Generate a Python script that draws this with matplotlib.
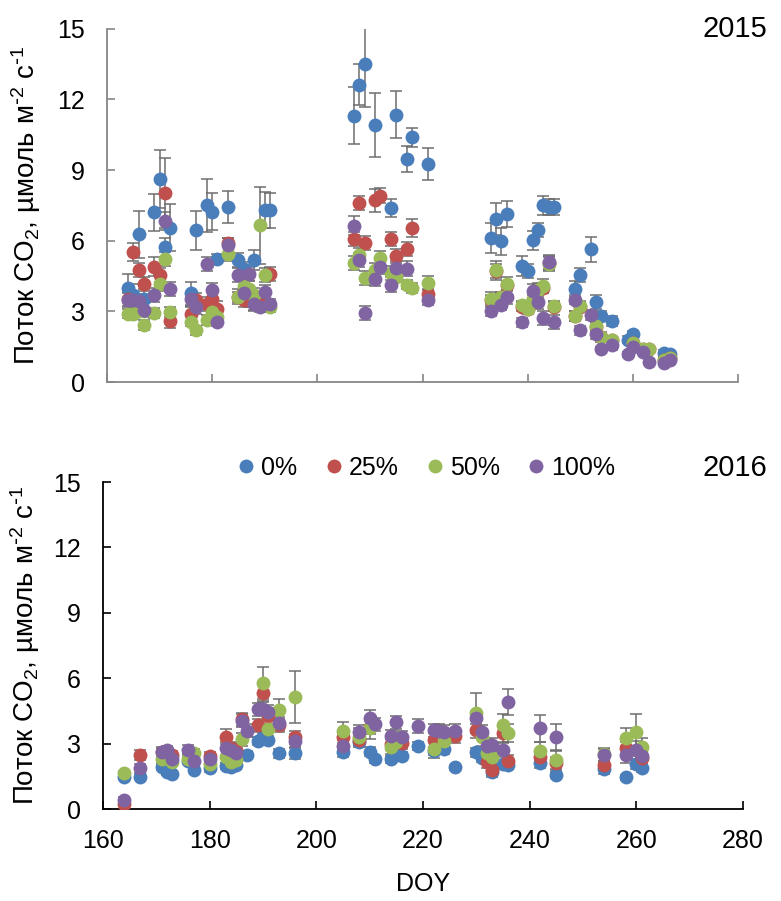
import numpy as np
import matplotlib.pyplot as plt

plt.rcParams['font.family'] = ['Liberation Sans', 'DejaVu Sans']
plt.rcParams['mathtext.default'] = 'regular'

nan = np.nan

# --- 2015 ---
days15 = [164, 165, 166, 167, 169, 170, 171, 172, 176, 177, 179, 180, 181, 183, 185, 186, 187, 188, 189, 190, 191,
          207, 208, 209, 211, 212, 214, 215, 217, 218, 221,
          233, 234, 235, 236, 239, 240, 241, 242, 243, 244, 245, 249, 250, 252, 253, 254, 256, 259, 260, 262, 263, 266, 267]

blue15 = [4.0, 3.7, 6.27, 3.54, 7.2, 8.63, 5.73, 6.55, 3.76, 6.44, 7.5, 7.23, 5.24, 7.44, 5.17, 4.81, nan, 5.19, nan, 7.31, 7.29,
          11.31, 12.63, 13.5, 10.93, nan, 7.39, 11.36, 9.46, 10.39, 9.26,
          6.13, 6.93, 5.97, 7.14, 4.92, 4.7, 6.02, 6.44, 7.5, 7.43, 7.43, 3.94, 4.55, 5.64, 3.39, 2.8, 2.6, 1.8, 2.02, nan, nan, 1.24, 1.19]
red15 = [3.54, 5.52, 4.77, 4.15, 4.9, 4.53, 8.03, 2.6, 2.9, 3.47, 3.33, 3.54, 3.12, 5.92, 3.63, 3.5, 3.47, 3.36, nan, 3.4, 4.6,
         6.09, 7.6, 5.9, 7.71, 7.92, 6.09, 5.37, 5.65, 6.54, 3.73,
         3.5, 4.7, 3.6, 4.1, 3.2, 3.1, 3.5, 3.9, 4.0, 5.05, 3.2, 2.8, 3.2, nan, 2.35, 1.9, 1.8, nan, 1.65, 1.4, 1.4, 0.95, 1.0]
green15 = [2.9, 2.88, 3.0, 2.42, 2.94, 4.15, 5.24, 2.98, 2.56, 2.2, 2.63, 2.98, 2.77, 5.42, 3.61, 4.07, 3.97, 3.69, 6.65, 4.56, 3.19,
           5.06, 5.38, 4.42, 4.77, 5.28, 4.63, 4.46, 4.14, 4.0, 4.21,
           3.52, 4.75, 3.62, 4.18, 3.26, 3.12, 3.54, 3.9, 4.07, 5.02, 3.22, 2.8, 3.22, nan, 2.37, 1.92, 1.8, nan, 1.67, 1.42, 1.42, 0.93, 1.0]
purple15 = [3.5, 3.47, 3.44, 3.05, 3.71, nan, 6.84, 3.96, 3.54, 3.19, 5.0, 3.89, 2.56, 5.8, 4.53, 3.76, 4.58, 3.33, 3.19, 3.83, 3.33,
            6.64, 5.19, 2.94, 4.38, 4.88, 4.14, 4.86, 4.82, nan, 3.47,
            3.0, nan, 3.26, 3.62, 2.53, nan, 3.88, 3.39, 2.73, 5.1, 2.56, 3.5, 2.19, 2.85, 2.02, 1.4, 1.57, 1.17, 1.5, 1.29, 0.86, 0.82, 0.93]

blue15_err = [0.57, 0.45, 0.99, 0.4, 0.8, 1.23, 0.4, 0.99, 0.5, 0.82, 1.14, 0.78, 0.2, 0.68, 0.3, 0.3, 0, 0.42, 0, 0.78, 0.74,
              1.2, 0.86, 1.82, 1.36, 0, 0.4, 0.99, 0.56, 0.4, 0.7,
              0.64, 0.68, 0.56, 0.55, 0.42, 0.3, 0.4, 0.3, 0.39, 0.35, 0.35, 0.35, 0.3, 0.53, 0.3, 0.2, 0.2, 0.15, 0.15, 0, 0, 0.1, 0.1]
red15_err = [0.3, 0.4, 0.3, 0.3, 0.4, 0.3, 1.5, 0.3, 0.3, 0.3, 0.3, 0.3, 0.3, 0.2, 0.3, 0.3, 0.3, 0.3, 0, 0.3, 0.3,
             0.3, 0.3, 0.3, 0.5, 0.3, 0.3, 0.3, 0.3, 0.4, 0.2,
             0.2, 0.3, 0.2, 0.2, 0.2, 0.2, 0.2, 0.2, 0.2, 0.3, 0.2, 0.2, 0.2, 0, 0.2, 0.1, 0.1, 0, 0.1, 0.1, 0.1, 0.1, 0.1]
green15_err = [0.2, 0.2, 0.2, 0.2, 0.2, 0.3, 0.3, 0.2, 0.2, 0.2, 0.2, 0.2, 0.2, 0.3, 0.2, 0.3, 0.3, 0.3, 1.65, 0.3, 0.2,
               0.3, 0.3, 0.3, 0.3, 0.3, 0.3, 0.2, 0.2, 0.2, 0.3,
               0.3, 0.4, 0.2, 0.3, 0.2, 0.2, 0.2, 0.3, 0.3, 0.3, 0.2, 0.2, 0.2, 0, 0.2, 0.2, 0.1, 0, 0.1, 0.1, 0.1, 0.1, 0.1]
purple15_err = [0.3, 0.3, 0.3, 0.3, 0.3, 0, 0.4, 0.3, 0.3, 0.3, 0.3, 0.3, 0.2, 0.3, 0.3, 0.3, 0.3, 0.3, 0.2, 0.3, 0.2,
                0.4, 0.3, 0.3, 0.3, 0.3, 0.3, 0.3, 0.3, 0, 0.2,
                0.2, 0, 0.2, 0.3, 0.2, 0, 0.3, 0.3, 0.3, 0.3, 0.3, 0.2, 0.2, 0.2, 0.2, 0.1, 0.2, 0.1, 0.2, 0.1, 0.1, 0.1, 0.1]

# --- 2016 ---
days16 = [164, 167, 171, 172, 173, 176, 177, 180, 183, 184, 185, 186, 187, 189, 190, 191, 193, 196,
          205, 208, 210, 211, 214, 215, 216, 219, 222, 223, 224, 226,
          230, 231, 232, 233, 235, 236, 242, 245, 254, 258, 260, 261]

blue16 = [1.48, 1.48, 1.94, 1.68, 1.6, 2.22, 1.79, 1.87, 1.97, 1.91, 2.01, nan, 2.48, 3.12, 3.35, 3.17, 2.55, 2.55,
          2.63, 3.09, 2.63, 2.28, 2.32, 2.46, 2.43, 2.89, 2.67, nan, 2.74, 1.91,
          2.61, 2.35, nan, 1.68, 2.06, 2.0, 2.1, 1.56, 1.82, 1.45, 2.06, 1.87]
red16 = [0.23, 2.48, 2.63, 2.63, 2.48, nan, nan, 2.43, 3.32, 2.78, 2.71, 4.11, nan, 3.85, 5.34, 4.27, 3.85, 3.29,
         3.32, 3.17, 3.75, nan, 3.0, nan, 3.05, nan, 3.17, 3.4, nan, 3.34,
         3.65, nan, 2.17, 1.8, 3.5, 2.2, 2.37, 2.1, 2.02, 2.78, nan, 2.33]
green16 = [1.64, nan, 2.32, 2.4, 2.17, 2.32, 2.55, 2.07, 2.4, 2.17, 2.25, 3.2, nan, nan, 5.77, 3.66, 4.54, 5.15,
           3.59, 3.32, 3.7, nan, 2.83, 3.07, nan, nan, 2.74, nan, 3.13, nan,
           4.39, 3.29, 2.56, 2.38, 3.85, 3.5, 2.67, 2.25, 2.52, 3.24, 3.55, 2.86]
purple16 = [0.44, 1.87, 2.6, 2.71, 2.32, 2.71, 2.22, 2.32, 2.78, 2.71, 2.55, 4.05, 3.59, 4.57, 4.6, 4.46, 3.93, 3.13,
            2.89, 3.55, 4.2, 3.9, 3.35, 3.99, 3.3, 3.81, 3.62, 3.6, 3.55, 3.6,
            4.2, 3.55, 2.9, 2.95, 2.71, 4.92, 3.7, 3.29, 2.46, 2.5, 2.71, 2.43]

blue16_err = [0.1, 0.1, 0.15, 0.1, 0.1, 0.15, 0.1, 0.15, 0.15, 0.15, 0.15, 0, 0.2, 0.2, 0.25, 0.2, 0.2, 0.25,
              0.25, 0.2, 0.2, 0.15, 0.2, 0.2, 0.2, 0.2, 0.2, 0, 0.2, 0.1,
              0.2, 0.2, 0, 0.2, 0.15, 0.15, 0.2, 0.15, 0.2, 0.1, 0.2, 0.15]
red16_err = [0.1, 0.25, 0.2, 0.2, 0.2, 0, 0, 0.2, 0.35, 0.3, 0.3, 0.3, 0, 0.3, 0.4, 0.35, 0.3, 0.3,
             0.3, 0.3, 0.3, 0, 0.3, 0, 0.3, 0, 0.3, 0.3, 0, 0.3,
             0.4, 0, 0.3, 0.25, 0.4, 0.3, 0.3, 0.3, 0.2, 0.3, 0, 0.3]
green16_err = [0.1, 0, 0.2, 0.2, 0.2, 0.2, 0.2, 0.2, 0.3, 0.3, 0.3, 0.3, 0, 0, 0.73, 0.4, 0.5, 1.2,
               0.4, 0.4, 0.5, 0, 0.4, 0.4, 0, 0, 0.4, 0, 0.4, 0,
               0.92, 0.4, 0.3, 0.3, 0.5, 0.4, 0.4, 0.4, 0.3, 0.5, 0.8, 0.4]
purple16_err = [0.1, 0.2, 0.2, 0.2, 0.2, 0.25, 0.2, 0.2, 0.3, 0.3, 0.3, 0.3, 0.3, 0.3, 0.3, 0.3, 0.3, 0.3,
                0.3, 0.3, 0.35, 0.3, 0.3, 0.3, 0.3, 0.3, 0.3, 0.3, 0.3, 0.3,
                0.3, 0.3, 0.3, 0.3, 0.3, 0.6, 0.6, 0.6, 0.3, 0.4, 0.4, 0.3]

labels = ['0%', '25%', '50%', '100%']
colors = ['#4a7ebb', '#c0504d', '#9bbb59', '#8064a2']

ylabel = r'Поток CO$_2$, µмоль м$^{\text{-}2}$ с$^{\text{-}1}$'


def draw_panel(ax, days, series, errors, spine_color):
    for vals, errs, col, lab in zip(series, errors, colors, labels):
        ax.errorbar(days, vals, yerr=errs, fmt='none', ecolor='#6d6d6d',
                    elinewidth=1.1, capsize=4, capthick=1.1, zorder=2)
        ax.plot(days, vals, 'o', color=col, markersize=10, markeredgewidth=0,
                label=lab, zorder=3)
    ax.set_xlim(160, 280)
    ax.set_ylim(0, 15)
    ax.set_xticks(range(160, 281, 20))
    ax.set_yticks(range(0, 16, 3))
    for s in ['top', 'right']:
        ax.spines[s].set_visible(False)
    for s in ['left', 'bottom']:
        ax.spines[s].set_color(spine_color)
        ax.spines[s].set_linewidth(1.3)
    ax.tick_params(direction='in', length=6, width=1.2, color=spine_color,
                   labelsize=18)
    ax.tick_params(axis='y', pad=16)
    ax.tick_params(axis='x', pad=14)
    ax.set_ylabel(ylabel, fontsize=20)


fig = plt.figure(figsize=(7.81, 9.01), dpi=100)
ax1 = fig.add_axes([0.137, 0.576, 0.808, 0.392])
ax2 = fig.add_axes([0.132, 0.102, 0.8195, 0.363])

draw_panel(ax1, days15, [blue15, red15, green15, purple15],
           [blue15_err, red15_err, green15_err, purple15_err], '#868686')
ax1.tick_params(axis='x', labelbottom=False)
ax1.yaxis.set_label_coords(-0.101, 0.5)

draw_panel(ax2, days16, [blue16, red16, green16, purple16],
           [blue16_err, red16_err, green16_err, purple16_err], '#000000')
ax2.yaxis.set_label_coords(-0.095, 0.5)
ax2.set_xlabel('DOY', fontsize=18, labelpad=14)

handles, labs = ax2.get_legend_handles_labels()
fig.legend(handles, labs, loc='center', bbox_to_anchor=(425 / 781, 1 - 468 / 901),
           ncol=4, frameon=False, fontsize=18, handletextpad=0.15,
           handlelength=0.9, columnspacing=1.0)

fig.text(767 / 781, 1 - 29 / 901, '2015', fontsize=21, ha='right', va='center')
fig.text(767 / 781, 1 - 468 / 901, '2016', fontsize=21, ha='right', va='center')

plt.savefig('out.png', dpi=100)
